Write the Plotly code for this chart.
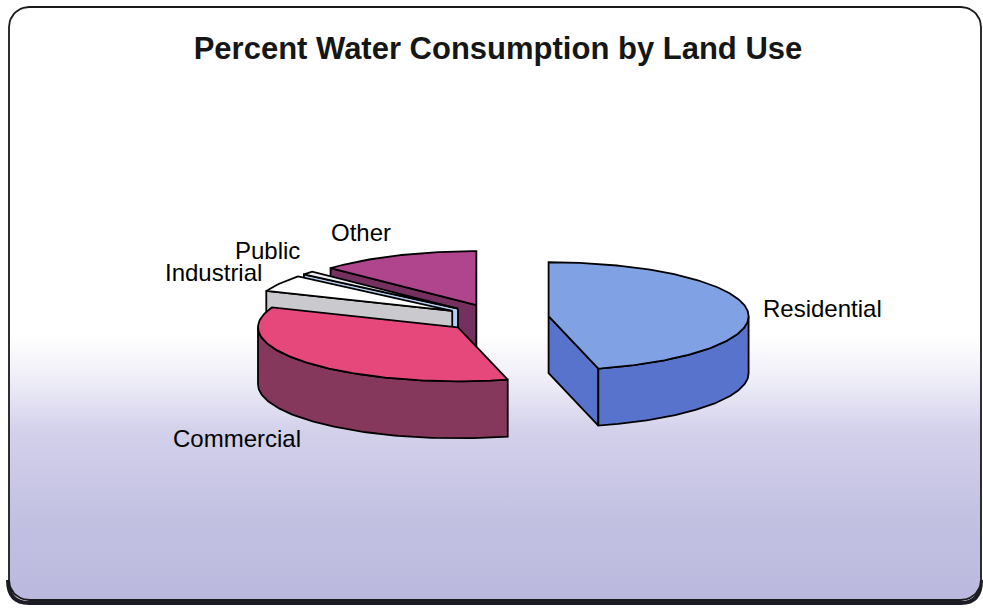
import numpy as np
import plotly.graph_objects as go

# ---------------- data ----------------
categories = ["Residential", "Commercial", "Industrial", "Public", "Other"]
percent = [46, 35, 5, 1, 13]

top_colors = ["#80a2e4", "#e6487c", "#ffffff", "#eeeef4", "#b0458e"]
side_colors = ["#5873cc", "#86385c", "#c9c9ce", "#b6cdf0", "#74305f"]

# label placement (pixel coordinates of the page)
label_pos = {
    "Residential": (822, 308),
    "Commercial": (237, 438),
    "Industrial": (213, 272),
    "Public": (267, 250),
    "Other": (361, 232),
}

# ---------------- geometry of the 3-D pie ----------------
W, H = 983, 610
CX, CY = 497, 318      # pie centre before explosion
A, B = 200, 54         # ellipse semi-axes
DEPTH = 57             # thickness
EXPLODE = 0.26         # explosion (fraction of radius)
FONT = "Arial, Liberation Sans, sans-serif"


def pt(cx, cy, t_deg, z=0.0, r=1.0):
    t = np.radians(t_deg)
    return cx + r * A * np.cos(t), cy - r * B * np.sin(t) + z


def arc(cx, cy, t_a, t_b, z=0.0):
    n = max(2, int(abs(t_b - t_a)) + 2)
    ts = np.linspace(t_a, t_b, n)
    xs, ys = pt(cx, cy, ts, z)
    return list(xs), list(ys)


fig = go.Figure()

# background panel with vertical gradient and rounded frame
x0, y0, x1, y1, rr = 9, 7, 981, 600, 20
bx, by = [], []
for (cxr, cyr, a0, a1) in [(x1 - rr, y0 + rr, 90, 0), (x1 - rr, y1 - rr, 0, -90),
                           (x0 + rr, y1 - rr, 270, 180), (x0 + rr, y0 + rr, 180, 90)]:
    ts = np.radians(np.linspace(a0, a1, 12))
    bx += list(cxr + rr * np.cos(ts))
    by += list(cyr - rr * np.sin(ts))
bx.append(bx[0]); by.append(by[0])

fig.add_trace(go.Scatter(
    x=bx, y=by, mode="lines", fill="toself",
    line=dict(color="#1a1a1a", width=1.8),
    fillgradient=dict(type="vertical", start=0, stop=610,
                      colorscale=[[0, "#ffffff"], [0.55, "#ffffff"], [0.62, "#efeef8"],
                                  [0.71, "#d2d0ea"], [0.85, "#c3c1e2"], [1, "#b9b7dc"]]),
    hoverinfo="skip", showlegend=False))

slices = []
cum = 0.0
for name, v, tc, sc in zip(categories, percent, top_colors, side_colors):
    t_start = 90 - cum * 3.6
    t_end = 90 - (cum + v) * 3.6
    cum += v
    t1, t2 = t_end, t_start
    m = (t1 + t2) / 2
    cx, cy = pt(CX, CY, m, 0, EXPLODE)
    slices.append(dict(name=name, t1=t1, t2=t2, cx=cx, cy=cy, tc=tc, sc=sc))

slices.sort(key=lambda s: s["cy"])  # paint back to front


def poly(xs, ys, color):
    fig.add_trace(go.Scatter(
        x=xs + [xs[0]], y=ys + [ys[0]], mode="lines", fill="toself",
        fillcolor=color, line=dict(color="black", width=1.8),
        hoverinfo="skip", showlegend=False))


for s in slices:
    cx, cy, t1, t2 = s["cx"], s["cy"], s["t1"], s["t2"]
    # cut faces
    for t, vis in [(t2, np.cos(np.radians(t2)) < -1e-6), (t1, np.cos(np.radians(t1)) > 1e-6)]:
        if vis:
            rx, ry = pt(cx, cy, t)
            poly([cx, rx, rx, cx], [cy, ry, ry + DEPTH, cy + DEPTH], s["sc"])
    # outer wall (front half only)
    for k in (-1, 0, 1):
        lo = max(t1, -180 + 360 * k)
        hi = min(t2, 0 + 360 * k)
        if hi - lo > 1e-6:
            ax, ay = arc(cx, cy, lo, hi)
            bxw, byw = arc(cx, cy, hi, lo, DEPTH)
            poly(ax + bxw, ay + byw, s["sc"])
    # top face
    ax, ay = arc(cx, cy, t1, t2)
    poly([cx] + ax, [cy] + ay, s["tc"])

# labels
for name in categories:
    lx, ly = label_pos[name]
    fig.add_annotation(x=lx, y=ly, xref="x", yref="y", text=name, showarrow=False,
                       font=dict(family=FONT, size=24, color="black"),
                       xanchor="center", yanchor="middle")

# frame shadow
path = (f"M {x0 + rr},{y1 + 3} L {x1 - rr},{y1 + 3} Q {x1},{y1 + 3} {x1},{y1 - rr} "
        f"M {x0 - 1},{y1 - rr} Q {x0 - 1},{y1 + 3} {x0 + rr},{y1 + 3}")
fig.add_shape(type="path", path=path, xref="x", yref="y",
              line=dict(color="#1c1c28", width=4), layer="below")

fig.update_layout(
    width=W, height=H, autosize=False,
    margin=dict(l=0, r=0, t=0, b=0),
    paper_bgcolor="white", plot_bgcolor="white",
    title=dict(text="<b>Percent Water Consumption by Land Use</b>",
               x=498 / W, xanchor="center", y=1 - 48 / H, yanchor="middle",
               font=dict(family=FONT, size=31, color="#161616")),
    xaxis=dict(range=[0, W], visible=False, fixedrange=True),
    yaxis=dict(range=[H, 0], visible=False, fixedrange=True),
    showlegend=False,
)

fig.write_html("out.html", config={"displayModeBar": False},
               post_script="document.body.style.margin='0px';document.body.style.overflow='hidden';")
